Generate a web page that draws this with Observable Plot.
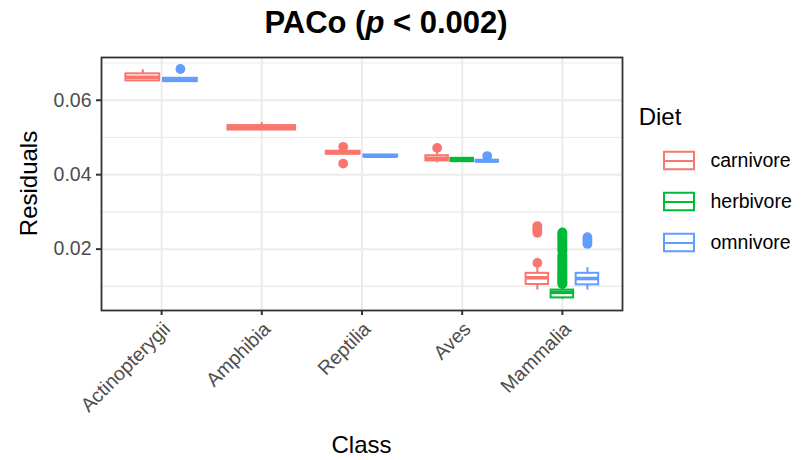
<!DOCTYPE html>
<html>
<head>
<meta charset="utf-8">
<script src="https://cdn.jsdelivr.net/npm/d3@7"></script>
<script src="https://cdn.jsdelivr.net/npm/@observablehq/plot@0.6"></script>
<style>
  body { margin: 0; background: #fff; font-family: "Liberation Sans", Arial, sans-serif; }
  #chart { position: relative; width: 807px; height: 460px; overflow: hidden; }
  #chart > svg { position: absolute; left: 0; top: 0; }
  #legend { position: absolute; left: 640px; top: 90px; }
</style>
</head>
<body>
<div id="chart"><div id="legend"></div></div>
<script>
// Categories
const classes = ["Actinopterygii", "Amphibia", "Reptilia", "Aves", "Mammalia"];
const diets = ["carnivore", "herbivore", "omnivore"];
const dietColors = ["#F8766D", "#00BA38", "#619CFF"];

// One entry per box (class x diet present in the data)
const boxClass = ["Actinopterygii", "Actinopterygii", "Amphibia", "Reptilia", "Reptilia",
                  "Aves", "Aves", "Aves", "Mammalia", "Mammalia", "Mammalia"];
const boxDiet  = ["carnivore", "omnivore", "carnivore", "carnivore", "omnivore",
                  "carnivore", "herbivore", "omnivore", "carnivore", "herbivore", "omnivore"];
const whiskerLow  = [0.0651, 0.0649, 0.0519, 0.0453, 0.0447, 0.0432, 0.0433, 0.0432, 0.0090, 0.0066, 0.0090];
const lowerHinge  = [0.0652, 0.0650, 0.0520, 0.0455, 0.0448, 0.0437, 0.0435, 0.0434, 0.0105, 0.0069, 0.0104];
const medians     = [0.0662, 0.0654, 0.0526, 0.0459, 0.0450, 0.0444, 0.0440, 0.0437, 0.0123, 0.0084, 0.0121];
const upperHinge  = [0.0671, 0.0659, 0.0532, 0.0463, 0.0453, 0.0451, 0.0444, 0.0439, 0.0135, 0.0090, 0.0135];
const whiskerHigh = [0.0682, 0.0661, 0.0540, 0.0465, 0.0454, 0.0460, 0.0446, 0.0443, 0.0155, 0.0102, 0.0150];
const outliers = [
  [],
  [0.0684],
  [],
  [0.0475, 0.0430],
  [],
  [0.0472],
  [],
  [0.0450],
  [0.0163, 0.0244, 0.0250, 0.0256, 0.0262],
  [0.0106, 0.0109, 0.0112, 0.0115, 0.0119, 0.0122, 0.0126, 0.0130, 0.0133, 0.0137,
   0.0141, 0.0145, 0.0149, 0.0152, 0.0156, 0.0160, 0.0164, 0.0168, 0.0172, 0.0176,
   0.0180, 0.0185, 0.0195, 0.0199, 0.0203, 0.0207, 0.0212, 0.0216, 0.0220, 0.0225,
   0.0229, 0.0233, 0.0237, 0.0241, 0.0245],
  [0.0214, 0.0220, 0.0226, 0.0232]
];

// Axis breaks
const yBreaks = [0.02, 0.04, 0.06];
const yMinorBreaks = [0.01, 0.03, 0.05, 0.07];

// Build box records and dodge them within each class (dodge2, padding 0.1)
const boxes = boxClass.map((c, k) => ({
  cls: c, diet: boxDiet[k], lo: whiskerLow[k], q1: lowerHinge[k], med: medians[k],
  q3: upperHinge[k], hi: whiskerHigh[k], out: outliers[k]
}));
classes.forEach((c, ci) => {
  const group = boxes.filter(b => b.cls === c);
  const w = 0.75 / group.length;
  group.forEach((b, i) => {
    b.xc = ci - 0.375 + (i + 0.5) * w;
    b.x1 = b.xc - w * 0.45;
    b.x2 = b.xc + w * 0.45;
  });
});
const outlierPts = boxes.flatMap(b => b.out.map(v => ({x: b.xc, value: v, diet: b.diet})));

// y limits with 5% expansion around the data
const allVals = boxes.flatMap(b => [b.lo, b.hi, ...b.out]);
const yMin = d3.min(allVals), yMax = d3.max(allVals);
const pad = (yMax - yMin) * 0.05;

const font = '"Liberation Sans", Arial, sans-serif';
const grid = "#EBEBEB";

const chart = Plot.plot({
  width: 807,
  height: 460,
  marginLeft: 101,
  marginRight: 185,
  marginTop: 57,
  marginBottom: 150,
  style: {fontFamily: font, background: "white"},
  x: {domain: [-0.6, classes.length - 0.4], axis: null},
  y: {domain: [yMin - pad, yMax + pad], axis: null},
  color: {domain: diets, range: dietColors},
  marks: [
    Plot.ruleY(yMinorBreaks, {stroke: grid, strokeWidth: 1.1}),
    Plot.ruleY(yBreaks, {stroke: grid, strokeWidth: 2}),
    Plot.ruleX(classes.map((c, i) => i), {stroke: grid, strokeWidth: 2}),
    Plot.dot(outlierPts, {x: "x", y: "value", r: 4.9, fill: "diet", stroke: null}),
    Plot.ruleX(boxes, {x: "xc", y1: "lo", y2: "q1", stroke: "diet", strokeWidth: 2}),
    Plot.ruleX(boxes, {x: "xc", y1: "q3", y2: "hi", stroke: "diet", strokeWidth: 2}),
    Plot.rect(boxes, {x1: "x1", x2: "x2", y1: "q1", y2: "q3", fill: "white", stroke: "diet", strokeWidth: 2}),
    Plot.ruleY(boxes, {x1: "x1", x2: "x2", y: "med", stroke: "diet", strokeWidth: 3.6}),
    Plot.frame({stroke: "#333333", strokeWidth: 1.8}),
    Plot.axisY({ticks: yBreaks, tickFormat: d3.format(".2f"), tickSize: 5, tickPadding: 5,
                fontSize: 19.5, stroke: "#333333", strokeWidth: 2, fill: "#4D4D4D", label: null}),
    Plot.axisX({ticks: classes.map((c, i) => i), tickFormat: () => "", tickSize: 5,
                stroke: "#333333", strokeWidth: 2, label: null}),
    Plot.text(classes, {x: (d, i) => i, text: d => d, frameAnchor: "bottom", dy: 10,
                        rotate: -45, textAnchor: "end", lineAnchor: "top",
                        fontSize: 19.5, fill: "#4D4D4D"})
  ]
});

const svg = d3.select(chart);
const title = svg.append("text")
  .attr("x", 386).attr("y", 33)
  .attr("text-anchor", "middle")
  .style("font-family", font).style("font-size", "31px").style("font-weight", "bold")
  .attr("fill", "black");
title.append("tspan").text("PACo (");
title.append("tspan").style("font-style", "italic").text("p");
title.append("tspan").text(" < 0.002)");

svg.append("text")
  .attr("transform", "translate(37,183.5) rotate(-90)")
  .attr("text-anchor", "middle")
  .style("font-family", font).style("font-size", "24px")
  .attr("fill", "black").text("Residuals");

svg.append("text")
  .attr("x", 361.5).attr("y", 453)
  .attr("text-anchor", "middle")
  .style("font-family", font).style("font-size", "24px")
  .attr("fill", "black").text("Class");

document.getElementById("chart").prepend(chart);

// Legend: boxplot glyphs keyed by diet
const legend = Plot.plot({
  width: 167,
  height: 180,
  margin: 0,
  style: {fontFamily: font, background: "transparent"},
  x: {type: "identity", axis: null},
  y: {type: "band", domain: diets, range: [49.25, 173.75], padding: 0, axis: null},
  color: {domain: diets, range: dietColors},
  marks: [
    Plot.ruleX(diets, {x: () => 39, y: d => d, stroke: d => d, strokeWidth: 2, insetTop: 5.25, insetBottom: 5.25}),
    Plot.barX(diets, {x1: () => 24, x2: () => 54, y: d => d, fill: "white", stroke: d => d, strokeWidth: 2,
                      insetTop: 11.75, insetBottom: 11.75}),
    Plot.ruleY(diets, {x1: () => 24, x2: () => 54, y: d => d, stroke: d => d, strokeWidth: 2}),
    Plot.text(diets, {x: () => 70, y: d => d, text: d => d, textAnchor: "start",
                      fontSize: 19.5, fill: "black"})
  ]
});
d3.select(legend).append("text")
  .attr("x", 20).attr("y", 35)
  .style("font-family", font).style("font-size", "24px")
  .attr("fill", "black").text("Diet");
document.getElementById("legend").appendChild(legend);
</script>
</body>
</html>
